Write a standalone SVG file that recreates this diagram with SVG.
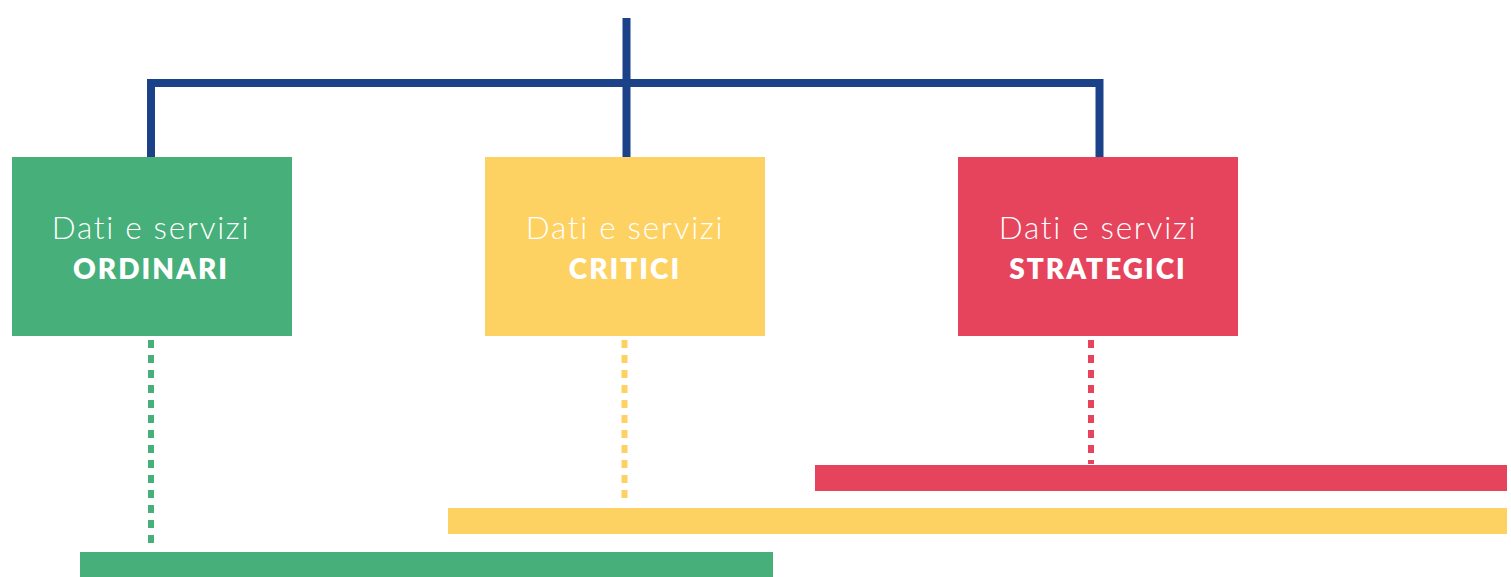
<svg xmlns="http://www.w3.org/2000/svg" width="1511" height="577" viewBox="0 0 1511 577">
  <style>
    .light { font-family: "Lato", "Open Sans", "Liberation Sans", sans-serif; font-weight: 300; font-size: 31.5px; letter-spacing: 1.7px; fill: #ffffff; }
    .bold { font-family: "Lato", "Open Sans", "Liberation Sans", sans-serif; font-weight: 800; font-size: 28px; letter-spacing: 2px; fill: #ffffff; }
    .tree { fill: none; stroke: #1b4288; stroke-width: 8; }
    .dots { fill: none; stroke-width: 6; stroke-dasharray: 8 7; }
  </style>
  <rect width="1511" height="577" fill="#ffffff"/>

  <!-- connectors -->
  <g id="connectors">
    <path class="tree" d="M626.5 18 V157 M151 157 V83 H1099.5 V157"/>
    <line class="dots" x1="151" y1="340" x2="151" y2="550" stroke="#46af7a"/>
    <line class="dots" x1="624.5" y1="340" x2="624.5" y2="504" stroke="#fdd262"/>
    <line class="dots" x1="1091" y1="340" x2="1091" y2="464" stroke="#e5445c"/>
  </g>

  <!-- category boxes -->
  <g id="ordinari">
    <rect x="12" y="157" width="280" height="179" fill="#46af7a"/>
    <text class="light" x="151" y="239" text-anchor="middle">Dati e servizi</text>
    <text class="bold" x="151" y="279" text-anchor="middle">ORDINARI</text>
  </g>
  <g id="critici">
    <rect x="485" y="157" width="280" height="179" fill="#fdd262"/>
    <text class="light" x="625" y="239" text-anchor="middle">Dati e servizi</text>
    <text class="bold" x="625" y="279" text-anchor="middle">CRITICI</text>
  </g>
  <g id="strategici">
    <rect x="958" y="157" width="280" height="179" fill="#e5445c"/>
    <text class="light" x="1098" y="239" text-anchor="middle">Dati e servizi</text>
    <text class="bold" x="1098" y="279" text-anchor="middle">STRATEGICI</text>
  </g>

  <!-- span bars -->
  <g id="bar-strategici"><rect x="815" y="465" width="692" height="26" fill="#e5445c"/></g>
  <g id="bar-critici"><rect x="448" y="508" width="1059" height="26" fill="#fdd262"/></g>
  <g id="bar-ordinari"><rect x="80" y="552" width="693" height="25" fill="#46af7a"/></g>
</svg>
